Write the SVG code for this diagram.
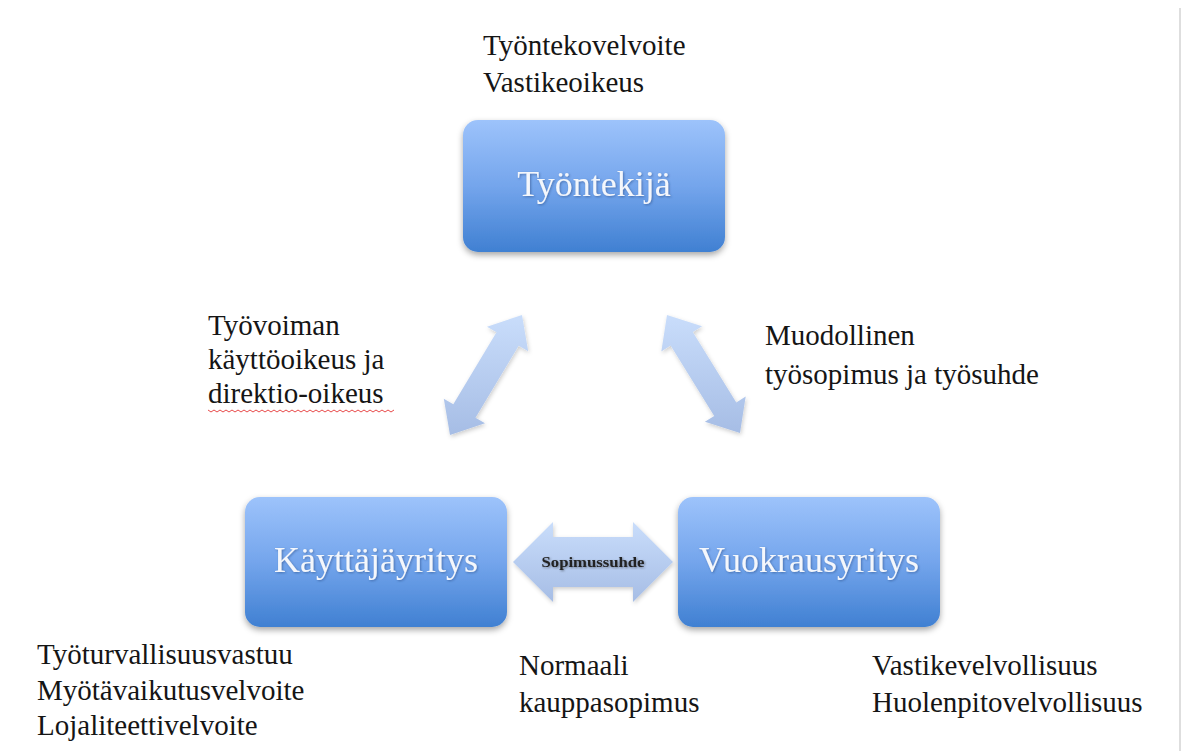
<svg xmlns="http://www.w3.org/2000/svg" width="1185" height="751" viewBox="0 0 1185 751">
<style>
.lbl{font-family:"Liberation Serif","Times New Roman",serif;font-size:29px;fill:#151515}
.node-text{font-family:"Liberation Serif","Times New Roman",serif;font-size:36px;fill:#f4f7fc;text-anchor:middle}
.node-box{fill:url(#nodeGrad)}
.arr{fill:url(#arrGrad)}
</style>
<defs>
<linearGradient id="nodeGrad" x1="0" y1="0" x2="0" y2="1">
<stop offset="0" stop-color="#9dc3fb"/>
<stop offset="0.5" stop-color="#74a5ec"/>
<stop offset="1" stop-color="#4080d2"/>
</linearGradient>
<linearGradient id="arrGrad" x1="0" y1="0" x2="0" y2="1">
<stop offset="0" stop-color="#c9ddfb"/>
<stop offset="1" stop-color="#a6bde5"/>
</linearGradient>
<filter id="shadow" x="-10%" y="-10%" width="120%" height="130%">
<feDropShadow dx="0" dy="3" stdDeviation="3" flood-color="#000" flood-opacity="0.35"/>
</filter>
<filter id="tshadow" x="-10%" y="-20%" width="120%" height="140%">
<feDropShadow dx="1" dy="1" stdDeviation="1" flood-color="#2a4f88" flood-opacity="0.6"/>
</filter>
<filter id="ashadow" x="-10%" y="-10%" width="120%" height="130%">
<feDropShadow dx="1" dy="2" stdDeviation="2" flood-color="#000" flood-opacity="0.2"/>
</filter>
<filter id="sshadow" x="-10%" y="-30%" width="120%" height="160%">
<feDropShadow dx="1" dy="1" stdDeviation="1" flood-color="#000" flood-opacity="0.4"/>
</filter>
</defs>
<rect width="1185" height="751" fill="#ffffff"/>
<line x1="1180" y1="8" x2="1180" y2="751" stroke="#dedede" stroke-width="2"/>

<g id="connectors">
<path class="arr" filter="url(#ashadow)" d="M522,315 L528.2,351.3 L518.7,345.7 L475.5,417.7 L485,423.3 L450,435 L443.8,398.7 L453.3,404.3 L496.5,332.3 L487,326.7 Z"/>
<path class="arr" filter="url(#ashadow)" d="M667,315 L702.1,326.2 L692.8,332 L736.3,402.4 L745.7,396.6 L740,433 L704.9,421.8 L714.2,416 L670.6,345.6 L661.3,351.4 Z"/>
<g id="sopimussuhde">
<path class="arr" filter="url(#ashadow)" d="M513,562 L553,522 L553,537 L633,537 L633,522 L673,562 L633,602 L633,587 L553,587 L553,602 Z"/>
<text x="593" y="567" text-anchor="middle" font-family="'Liberation Serif','Times New Roman',serif" font-size="14" font-weight="bold" fill="#222" filter="url(#sshadow)" textLength="103" lengthAdjust="spacingAndGlyphs">Sopimussuhde</text>
</g>
</g>

<g id="tyontekija">
<rect class="node-box" x="463" y="120" width="262" height="132" rx="15" filter="url(#shadow)"/>
<text class="node-text" x="594" y="196" filter="url(#tshadow)">Työntekijä</text>
</g>
<g id="kayttajayritys">
<rect class="node-box" x="245" y="497" width="262" height="130" rx="15" filter="url(#shadow)"/>
<text class="node-text" x="376" y="572" filter="url(#tshadow)">Käyttäjäyritys</text>
</g>
<g id="vuokrausyritys">
<rect class="node-box" x="678" y="497" width="262" height="130" rx="15" filter="url(#shadow)"/>
<text class="node-text" x="809" y="572" filter="url(#tshadow)">Vuokrausyritys</text>
</g>

<g id="labels">
<text class="lbl" x="483" y="55">Työntekovelvoite</text>
<text class="lbl" x="483" y="92">Vastikeoikeus</text>
<text class="lbl" x="208" y="335">Työvoiman</text>
<text class="lbl" x="208" y="369">käyttöoikeus ja</text>
<text class="lbl" x="208" y="403">direktio-oikeus</text>
<path d="M208,410 l3,2 l3,-2 l3,2 l3,-2 l3,2 l3,-2 l3,2 l3,-2 l3,2 l3,-2 l3,2 l3,-2 l3,2 l3,-2 l3,2 l3,-2 l3,2 l3,-2 l3,2 l3,-2 l3,2 l3,-2 l3,2 l3,-2 l3,2 l3,-2 l3,2 l3,-2 l3,2 l3,-2 l3,2 l3,-2 l3,2 l3,-2 l3,2 l3,-2 l3,2 l3,-2 l3,2 l3,-2 l3,2 l3,-2 l3,2 l3,-2 l3,2 l3,-2 l3,2 l3,-2 l3,2 l3,-2 l3,2 l3,-2 l3,2 l3,-2 l3,2 l3,-2 l3,2 l3,-2 l3,2 l3,-2 l3,2 l3,-2" fill="none" stroke="#e84a4a" stroke-width="1"/>
<text class="lbl" x="765" y="345">Muodollinen</text>
<text class="lbl" x="765" y="384">työsopimus ja työsuhde</text>
<text class="lbl" x="37" y="664">Työturvallisuusvastuu</text>
<text class="lbl" x="37" y="700">Myötävaikutusvelvoite</text>
<text class="lbl" x="37" y="735">Lojaliteettivelvoite</text>
<text class="lbl" x="519" y="675">Normaali</text>
<text class="lbl" x="519" y="712">kauppasopimus</text>
<text class="lbl" x="872" y="675">Vastikevelvollisuus</text>
<text class="lbl" x="872" y="712">Huolenpitovelvollisuus</text>
</g>
</svg>
